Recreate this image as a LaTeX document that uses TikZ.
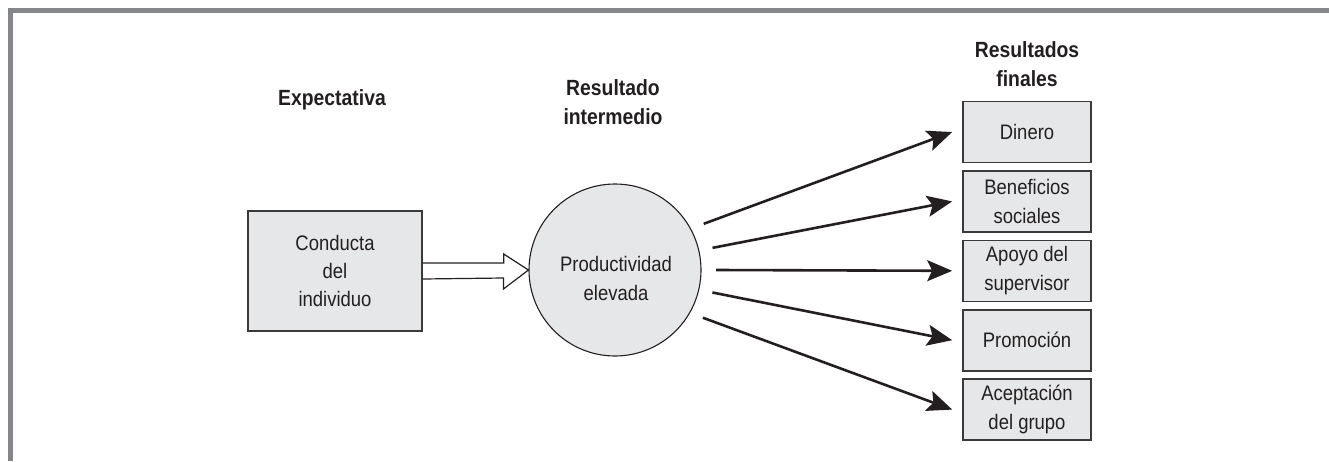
\documentclass[tikz,border=0pt]{standalone}
\usepackage{fontspec}
\setmainfont{Liberation Sans}[FakeStretch=0.88]
\usetikzlibrary{arrows.meta,calc}
\definecolor{framegray}{HTML}{85868A}
\definecolor{boxfill}{HTML}{E6E7E8}
\definecolor{ink}{HTML}{231F20}
\definecolor{edge}{HTML}{3A3A3A}
\tikzset{
  heading/.style={inner sep=0pt, align=center, text=ink,
    font=\fontsize{22}{29}\selectfont\bfseries},
  outbox/.style={draw=edge, line width=1.6pt, fill=boxfill, rectangle,
    minimum width=128pt, minimum height=61pt, inner sep=0pt, align=center,
    text=ink, font=\fontsize{21}{28.5}\selectfont},
  behbox/.style={draw=edge, line width=1.4pt, fill=boxfill, rectangle,
    minimum width=174pt, minimum height=120pt, inner sep=0pt, align=center,
    text=ink, font=\fontsize{21}{28}\selectfont},
  midcircle/.style={draw=ink, line width=1.1pt, fill=boxfill, circle,
    minimum size=172pt, inner sep=0pt},
  bodytext/.style={inner sep=0pt, align=center, text=ink,
    font=\fontsize{21}{29}\selectfont},
  blockarrow/.style={draw=ink, line width=1.2pt, line join=miter},
  outarrow/.style={draw=ink, line width=2.6pt,
    -{Stealth[length=25pt, width=21pt, inset=5pt]}},
}
\begin{document}
\begin{tikzpicture}[x=1pt, y=-1pt]
\useasboundingbox (0,0) rectangle (1329,461);
% frame
\fill[framegray] (8,8) rectangle (1329,13);
\fill[framegray] (8,8) rectangle (13,461);

% headings
\node[heading, anchor=base] (hexp) at (332,105) {Expectativa};
\node[heading] (hmid) at (613,102) {Resultado\\intermedio};
\node[heading] (hfin) at (1027,64) {Resultados\\finales};

% behaviour box and circle
\node[behbox] (cb) at (335,271) {Conducta\\del\\individuo};
\node[midcircle] (c) at (615,270) {};
\node[bodytext] (ctext) at (616,278) {Productividad\\elevada};

% outcome boxes
\node[outbox] (b1) at (1027,132) {Dinero};
\node[outbox] (b2) at (1027,201.4) {Beneficios\\sociales};
\node[outbox] (b3) at (1027,270.8) {Apoyo del\\supervisor};
\node[outbox] (b4) at (1027,340.2) {Promoción};
\node[outbox] (b5) at (1027,409.6) {Aceptación\\del grupo};

% block arrow
\draw[blockarrow] ($(cb.east)+(0,-8)$) -- ++(81,0) -- ++(0,-9) -- (c.west)
  -- ($(c.west)+(-25,19)$) -- ++(0,-11) -- ($(cb.east)+(0,8)$);

% outcome arrows
\coordinate (s1) at ($(c.center)+(-27.5:100)$);
\coordinate (s2) at ($(c.center)+(-12.8:100)$);
\coordinate (s3) at ($(c.center)+(0:101)$);
\coordinate (s4) at ($(c.center)+(13:100)$);
\coordinate (s5) at ($(c.center)+(28.5:100)$);
\draw[outarrow] (s1) -- ($(b1.west)+(-10,0)$);
\draw[outarrow] (s2) -- ($(b2.west)+(-10,0)$);
\draw[outarrow] (s3) -- ($(b3.west)+(-10,0)$);
\draw[outarrow] (s4) -- ($(b4.west)+(-10,0)$);
\draw[outarrow] (s5) -- ($(b5.west)+(-10,0)$);
\end{tikzpicture}
\end{document}
